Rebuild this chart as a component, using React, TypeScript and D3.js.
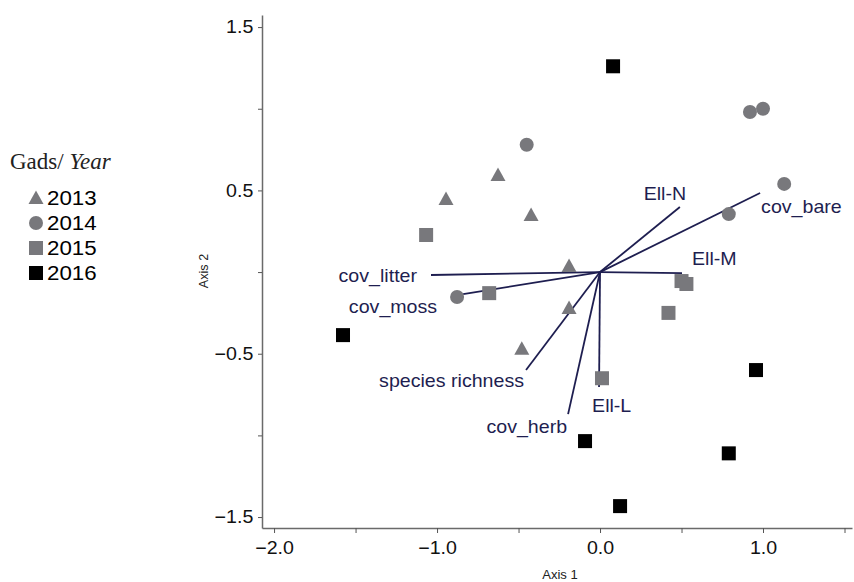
import React, { useRef, useEffect } from "react";
import * as d3 from "d3";

// ordination scores per year (Axis 1, Axis 2)
const years = ["2013", "2014", "2015", "2016"];
const ax1_2013 = [-0.945, -0.626, -0.423, -0.19, -0.19, -0.48];
const ax2_2013 = [0.447, 0.594, 0.349, 0.037, -0.22, -0.47];
const ax1_2014 = [-0.45, 0.92, 1.0, 1.13, 0.79, -0.877];
const ax2_2014 = [0.78, 0.98, 1.0, 0.54, 0.355, -0.153];
const ax1_2015 = [-1.067, -0.68, 0.5, 0.53, 0.42, 0.012];
const ax2_2015 = [0.227, -0.129, -0.055, -0.073, -0.25, -0.65];
const ax1_2016 = [0.08, -1.577, 0.957, -0.092, 0.79, 0.123];
const ax2_2016 = [1.26, -0.386, -0.6, -1.035, -1.11, -1.433];

// biplot vectors
const vecNames = ["cov_litter", "cov_moss", "species richness", "cov_herb", "Ell-L", "Ell-M", "Ell-N", "cov_bare"];
const vecAx1 = [-1.037, -0.84, -0.454, -0.196, -0.006, 0.503, 0.49, 0.982];
const vecAx2 = [-0.018, -0.135, -0.6, -0.87, -0.704, -0.006, 0.398, 0.484];

const xTicks = [-2.0, -1.5, -1.0, -0.5, 0.0, 0.5, 1.0, 1.5];
const xLabeled = [-2.0, -1.0, 0.0, 1.0];
const yTicks = [-1.5, -1.0, -0.5, 0.0, 0.5, 1.0, 1.5];
const yLabeled = [-1.5, -0.5, 0.5, 1.5];

// label placement relative to vector tip: [dx, dy, anchor]
const labelPos: Record<string, [number, number, string]> = {
  cov_litter: [-14, 7, "end"],
  cov_moss: [-26, 19, "end"],
  "species richness": [-2, 17, "end"],
  cov_herb: [-1, 19, "end"],
  "Ell-L": [-7, 25, "start"],
  "Ell-M": [10, -8, "start"],
  "Ell-N": [-15, -7, "middle"],
  cov_bare: [1, 20, "start"],
};

const gray = "#78787c";
const navy = "#1e1e50";
const sans = "Arial, 'Liberation Sans', sans-serif";
const stretch = 1.09; // text in the figure is slightly wide

export default function App() {
  const ref = useRef<SVGSVGElement>(null);

  useEffect(() => {
    const svg = d3.select(ref.current);
    svg.selectAll("*").remove();

    const x = d3.scaleLinear().domain([-2.074, 1.546]).range([262, 852]);
    const y = d3.scaleLinear().domain([-1.567, 1.574]).range([528, 15]);

    const wideText = (g: any, tx: number, ty: number, s: string, size: number, anchor = "start", fill = "#111") =>
      g.append("text").attr("transform", `translate(${tx},${ty}) scale(${stretch},1)`)
        .attr("text-anchor", anchor).attr("fill", fill)
        .style("font-family", sans).style("font-size", size + "px").text(s);

    // axes
    const xAxis = svg.append("g").attr("transform", "translate(0,528)")
      .call(d3.axisBottom(x).tickValues(xTicks).tickSizeInner(5).tickSizeOuter(0).tickPadding(8)
        .tickFormat((d: any) => (xLabeled.includes(+d) ? d3.format(".1f")(+d) : "")));
    const yAxis = svg.append("g").attr("transform", "translate(262,0)")
      .call(d3.axisLeft(y).tickValues(yTicks).tickSizeInner(4).tickSizeOuter(0).tickPadding(4)
        .tickFormat((d: any) => (yLabeled.includes(+d) ? d3.format(".1f")(+d) : "")));
    [xAxis, yAxis].forEach((g) => {
      g.select(".domain").attr("stroke", "#6a6a6a").attr("stroke-width", 1.5);
      g.selectAll(".tick line").attr("stroke", "#555");
      g.selectAll(".tick text").attr("fill", "#111").attr("transform", `scale(${stretch},1)`)
        .style("font-family", sans).style("font-size", "18px");
    });

    wideText(svg, 560, 579, "Axis 1", 12, "middle", "#222");
    svg.append("text").attr("transform", "translate(208,271) rotate(-90) scale(1.05,1)").attr("text-anchor", "middle")
      .style("font-family", sans).style("font-size", "12px").attr("fill", "#222").text("Axis 2");

    // vectors
    const vg = svg.append("g");
    vecNames.forEach((n, i) => {
      vg.append("line").attr("x1", x(0)).attr("y1", y(0)).attr("x2", x(vecAx1[i])).attr("y2", y(vecAx2[i]))
        .attr("stroke", navy).attr("stroke-width", 1.8);
    });

    // points
    const pts = svg.append("g");
    const sets = [
      [ax1_2013, ax2_2013],
      [ax1_2014, ax2_2014],
      [ax1_2015, ax2_2015],
      [ax1_2016, ax2_2016],
    ];
    const drawSym = (g: any, k: number, cx: number, cy: number) => {
      if (k === 0) {
        g.append("path").attr("transform", `translate(${cx},${cy})`)
          .attr("d", "M0,-7.5L7.5,6L-7.5,6Z").attr("fill", gray);
      } else if (k === 1) {
        g.append("circle").attr("cx", cx).attr("cy", cy).attr("r", 7).attr("fill", gray);
      } else {
        g.append("rect").attr("x", cx - 7).attr("y", cy - 7).attr("width", 14).attr("height", 14)
          .attr("fill", k === 2 ? gray : "#000");
      }
    };
    sets.forEach(([xs, ys], k) => {
      xs.forEach((v, i) => drawSym(pts, k, x(v), y(ys[i])));
    });

    // vector labels on top
    vecNames.forEach((n, i) => {
      const [dx, dy, anchor] = labelPos[n];
      wideText(svg, x(vecAx1[i]) + dx, y(vecAx2[i]) + dy, n, 18, anchor, navy);
    });

    // legend
    const lg = svg.append("g");
    const title = lg.append("text").attr("x", 10).attr("y", 169)
      .style("font-family", "'Liberation Serif', 'Times New Roman', serif").style("font-size", "23px").attr("fill", "#222");
    title.append("tspan").text("Gads/ ");
    title.append("tspan").style("font-style", "italic").text("Year");
    years.forEach((yr, k) => {
      const base = 205 + k * 25;
      drawSym(lg, k, 36, base - 7);
      wideText(lg, 47, base, yr, 20.5, "start", "#000");
    });
  }, []);

  return (
    <svg ref={ref} width={854} height={582} style={{ position: "absolute", left: 0, top: 0, background: "#fff" }} />
  );
}
